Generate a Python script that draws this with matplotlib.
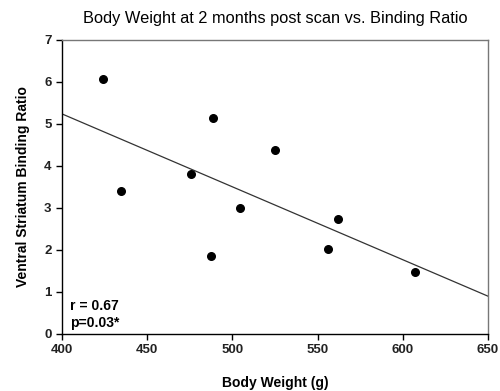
import matplotlib
matplotlib.use('Agg')
import matplotlib.pyplot as plt
import numpy as np

plt.rcParams['font.family'] = ['Liberation Sans', 'DejaVu Sans']

# body weight (g) vs ventral striatum binding ratio
weight = [424, 434.5, 475.5, 488.5, 487.5, 504.5, 525, 556, 562, 607]
ratio = [6.07, 3.40, 3.81, 5.14, 1.86, 3.00, 4.38, 2.02, 2.74, 1.48]

xticks = [400, 450, 500, 550, 600, 650]
yticks = [0, 1, 2, 3, 4, 5, 6, 7]

fig = plt.figure(figsize=(5, 3.91), dpi=100)
ax = fig.add_axes([0.124, 0.146, 0.852, 0.752])

ax.scatter(weight, ratio, s=30, color='black', zorder=3)

# least squares line
m, b = np.polyfit(weight, ratio, 1)
xl = np.array([400, 650])
ax.plot(xl, m * xl + b, color='#333333', lw=0.9)

ax.set_xlim(400, 650)
ax.set_ylim(0, 7)
ax.set_xticks(xticks)
ax.set_yticks(yticks)
ax.tick_params(direction='out', length=4, width=1, labelsize=9.5)
for lab in ax.get_xticklabels() + ax.get_yticklabels():
    lab.set_fontweight('bold')
    lab.set_color('#222222')
for s in ['top', 'right']:
    ax.spines[s].set_color('#777777')
for s in ax.spines.values():
    s.set_linewidth(1)

ax.set_xlabel('Body Weight (g)', fontsize=10, fontweight='bold', labelpad=14)
ax.set_ylabel('Ventral Striatum Binding Ratio', fontsize=10, fontweight='bold', labelpad=10)
ax.set_title('Body Weight at 2 months post scan vs. Binding Ratio', fontsize=11.8, pad=12)

ax.text(0.018, 0.015, 'r = 0.67\np=0.03*', transform=ax.transAxes, fontsize=10,
        fontweight='bold', va='bottom', linespacing=1.2)

fig.savefig('out.png', dpi=100)
